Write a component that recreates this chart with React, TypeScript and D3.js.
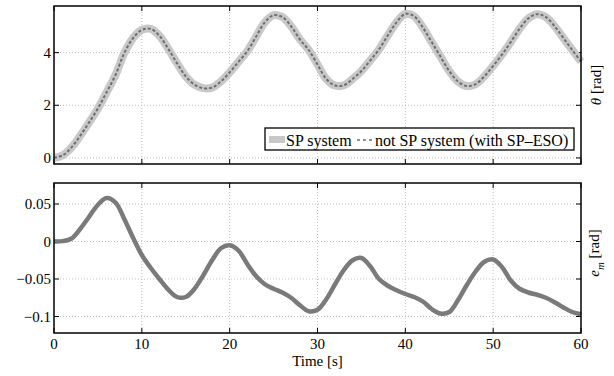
import React from "react";
import * as d3 from "d3";

const timeS = d3.range(0, 61);
const thetaSP = [0, 0.1, 0.4, 0.85, 1.35, 1.88, 2.5, 3.15, 3.98, 4.55, 4.86, 4.9, 4.64, 4.15, 3.6, 3.1, 2.78, 2.65, 2.67, 2.9, 3.25, 3.65, 4.05, 4.6, 5.15, 5.42, 5.35, 5.0, 4.5, 4.1, 3.55, 3.0, 2.75, 2.76, 3.0, 3.3, 3.7, 4.12, 4.65, 5.15, 5.47, 5.38, 4.95, 4.4, 3.85, 3.3, 2.9, 2.73, 2.8, 3.1, 3.5, 3.92, 4.4, 4.9, 5.3, 5.46, 5.35, 5.0, 4.55, 4.1, 3.66];
const emErr = [0, 0.0005, 0.004, 0.017, 0.033, 0.049, 0.058, 0.052, 0.03, 0.005, -0.018, -0.035, -0.05, -0.064, -0.074, -0.074, -0.063, -0.045, -0.025, -0.009, -0.005, -0.012, -0.03, -0.046, -0.057, -0.063, -0.068, -0.075, -0.085, -0.093, -0.091, -0.077, -0.057, -0.038, -0.025, -0.022, -0.033, -0.05, -0.059, -0.065, -0.07, -0.074, -0.08, -0.09, -0.096, -0.094, -0.078, -0.058, -0.04, -0.027, -0.024, -0.034, -0.052, -0.063, -0.068, -0.071, -0.075, -0.081, -0.088, -0.094, -0.097];
const xTicks = [0, 10, 20, 30, 40, 50, 60];
const thetaTicks = [0, 2, 4];
const emTicks = [0.05, 0, -0.05, -0.1];
const legendLabels = ["SP system", "not SP system (with SP\u2013ESO)"];

const FONT = "'Liberation Serif', 'DejaVu Serif', serif";
const L = 54, R = 581;
const top1 = 6, bot1 = 164, top2 = 183, bot2 = 333;

function fmt(v: number) {
  if (v === 0) return "0";
  const s = String(Math.abs(v));
  return (v < 0 ? "\u2212" : "") + s;
}

export default function App() {
  const x = d3.scaleLinear().domain([0, 60]).range([L, R]);
  const y1 = d3.scaleLinear().domain([-0.23, 5.77]).range([bot1, top1]);
  const y2 = d3.scaleLinear().domain([-0.122, 0.078]).range([bot2, top2]);
  const line1 = d3.line<number>().x((_, i) => x(timeS[i])).y((d) => y1(d)).curve(d3.curveCatmullRom);
  const line2 = d3.line<number>().x((_, i) => x(timeS[i])).y((d) => y2(d)).curve(d3.curveCatmullRom);
  const tl = 5;

  const frame = (top: number, bot: number, ys: number[], y: d3.ScaleLinear<number, number>, showX: boolean) => (
    <g>
      {xTicks.slice(1, -1).map((t) => (
        <line key={"gx" + t} x1={x(t)} x2={x(t)} y1={top} y2={bot} stroke="#b0b0b0" strokeWidth={0.8} strokeDasharray="1,2" />
      ))}
      {ys.map((t) => (
        <line key={"gy" + t} x1={L} x2={R} y1={y(t)} y2={y(t)} stroke="#b0b0b0" strokeWidth={0.8} strokeDasharray="1,2" />
      ))}
      {xTicks.map((t) => (
        <g key={"tx" + t}>
          <line x1={x(t)} x2={x(t)} y1={bot} y2={bot - tl} stroke="#000" strokeWidth={1} />
          <line x1={x(t)} x2={x(t)} y1={top} y2={top + tl} stroke="#000" strokeWidth={1} />
          {showX && (
            <text x={x(t)} y={bot + 16} textAnchor="middle" fontFamily={FONT} fontSize={15}>{t}</text>
          )}
        </g>
      ))}
      {ys.map((t) => (
        <g key={"ty" + t}>
          <line x1={L} x2={L + tl} y1={y(t)} y2={y(t)} stroke="#000" strokeWidth={1} />
          <line x1={R} x2={R - tl} y1={y(t)} y2={y(t)} stroke="#000" strokeWidth={1} />
          <text x={L - 3} y={y(t) + 5} textAnchor="end" fontFamily={FONT} fontSize={15}>{fmt(t)}</text>
        </g>
      ))}
    </g>
  );

  return (
    <svg width={614} height={376} style={{ position: "absolute", left: 0, top: 0, background: "#fff" }}>
      <rect x={0} y={0} width={614} height={376} fill="#fff" />
      {frame(top1, bot1, thetaTicks, y1, false)}
      <path d={line1(thetaSP) || ""} fill="none" stroke="#c8c8c8" strokeWidth={8} strokeLinejoin="round" />
      <path d={line1(thetaSP) || ""} fill="none" stroke="#6e6e6e" strokeWidth={2} strokeDasharray="3,2" />
      <rect x={L} y={top1} width={R - L} height={bot1 - top1} fill="none" stroke="#000" strokeWidth={1.5} />
      <g>
        <rect x={265} y={128} width={309} height={22} fill="#fff" stroke="#000" strokeWidth={1.3} />
        <rect x={269} y={136} width={16} height={7} fill="#c8c8c8" />
        <text x={286} y={145.5} fontFamily={FONT} fontSize={16}>{legendLabels[0]}</text>
        <line x1={357} x2={372} y1={140} y2={140} stroke="#6e6e6e" strokeWidth={1.5} strokeDasharray="3,3" />
        <text x={375} y={145.5} fontFamily={FONT} fontSize={16}>{legendLabels[1]}</text>
      </g>
      <text transform={`translate(601,${(top1 + bot1) / 2}) rotate(-90)`} textAnchor="middle" fontFamily={FONT} fontSize={15}>
        <tspan fontStyle="italic">θ</tspan> [rad]
      </text>

      {frame(top2, bot2, emTicks, y2, true)}
      <path d={line2(emErr) || ""} fill="none" stroke="#7a7a7a" strokeWidth={4.5} strokeLinejoin="round" />
      <rect x={L} y={top2} width={R - L} height={bot2 - top2} fill="none" stroke="#000" strokeWidth={1.5} />
      <text transform={`translate(599,${(top2 + bot2) / 2 - 5}) rotate(-90)`} textAnchor="middle" fontFamily={FONT} fontSize={15}>
        <tspan fontStyle="italic">e</tspan><tspan fontStyle="italic" fontSize={11} dy={5}>m</tspan><tspan dy={-5}> [rad]</tspan>
      </text>
      <text x={(L + R) / 2} y={366} textAnchor="middle" fontFamily={FONT} fontSize={15}>Time [s]</text>
    </svg>
  );
}
